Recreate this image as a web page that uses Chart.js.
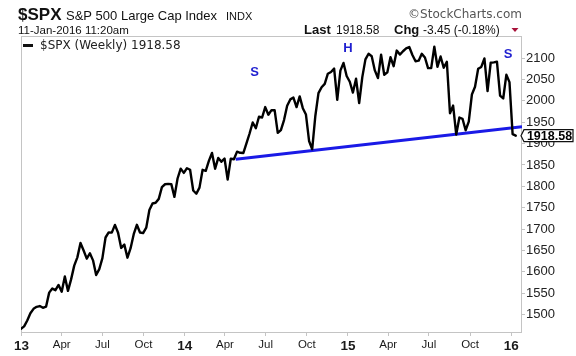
<!DOCTYPE html>
<html><head><meta charset="utf-8">
<script src="https://cdn.jsdelivr.net/npm/chart.js@4"></script>
<style>html,body{margin:0;padding:0;background:#fff}canvas{display:block}</style>
</head><body>
<canvas id="c" width="576" height="356"></canvas>
<script>
// Weekly closes, weeks dated by their Monday; first week starts Mon 31-Dec-2012 (day -1 from 1-Jan-2013)
const firstWeekDay = -1;
const closes2013 = [1466.5,1472.1,1486.0,1503.0,1513.2,1517.9,1519.8,1515.6,1518.2,1551.2,1560.7,1556.9,1569.2,1553.3,1588.9,1555.3,1582.2,1614.4,1633.7,1667.5,1649.6,1630.7,1643.4,1626.7,1592.4,1606.3,1631.9,1680.2,1692.1,1691.7,1709.7,1691.4,1655.8,1663.5,1633.0,1655.2,1688.0,1709.9,1691.8,1690.5,1703.2,1744.5,1759.8,1761.6,1770.6,1798.2,1804.8,1805.8,1805.1,1775.3,1818.3,1841.4];
const closes2014 = [1831.4,1842.4,1838.7,1790.3,1782.6,1797.0,1838.6,1836.3,1859.5,1878.0,1841.1,1866.5,1857.6,1865.1,1815.7,1864.9,1863.4,1881.1,1878.5,1877.9,1900.5,1923.6,1949.4,1936.2,1962.9,1961.0,1985.4,1967.6,1978.2,1978.3,1925.2,1931.6,1955.1,1988.4,2003.4,2007.7,1985.5,2010.4,1982.9,1967.9,1906.1,1886.8,1964.6,2018.1,2031.9,2039.8,2063.5,2067.6,2075.4,2002.3,2070.7,2088.8];
const closes2015 = [2058.2,2044.8,2019.4,2051.8,1995.0,2055.5,2097.0,2110.3,2104.5,2071.3,2053.4,2108.1,2061.0,2067.0,2102.1,2081.2,2117.7,2108.3,2116.1,2122.7,2126.1,2107.4,2092.8,2094.1,2110.0,2101.5,2076.8,2076.6,2126.6,2079.7,2103.8,2077.6,2091.5,1970.9,1988.9,1921.2,1961.1,1958.0,1931.3,1951.4,2014.9,2033.1,2075.2,2079.4,2099.2,2023.0,2089.2,2090.1,2091.7,2012.4,2005.6,2061.0,2043.9];
const closes2016 = [1922.0,1918.58];
const closes = [...closes2013, ...closes2014, ...closes2015, ...closes2016];

const tickDays = [0,90,181,273,365,455,546,638,730,820,911,1003,1095];
const tickLabels = ['13','Apr','Jul','Oct','14','Apr','Jul','Oct','15','Apr','Jul','Oct','16'];
const yTicks = [1500,1550,1600,1650,1700,1750,1800,1850,1900,1950,2000,2050,2100];

const necklineDays = [479, 1119];
const necklineValues = [1863.5, 1939.5];

const patternLabels = ['S','H','S'];
const patternDays = [521, 730, 1088];
const patternValues = [2066, 2123, 2108];

const lastValue = closes[closes.length-1];
const FONT = '"Liberation Sans", Arial, sans-serif';

const points = closes.map((v,i)=>({x: firstWeekDay + 7*i, y: v}));
const neck = necklineDays.map((d,i)=>({x:d, y:necklineValues[i]}));

const decor = {
  id:'decor',
  beforeDatasetsDraw(chart){
    const {ctx, chartArea:a} = chart;
    ctx.save();
    ctx.strokeStyle = '#c4c4c4';
    ctx.lineWidth = 1;
    ctx.strokeRect(a.left+0.5, a.top+0.5, a.right-a.left-1, a.bottom-a.top-1);
    ctx.restore();
  },
  afterDraw(chart){
    const {ctx, chartArea:a, scales} = chart;
    const xs = scales.x, ys = scales.y;
    ctx.save();
    // Header
    ctx.fillStyle = '#111';
    ctx.textBaseline = 'alphabetic';
    ctx.textAlign = 'left';
    ctx.font = 'bold 17px ' + FONT;
    ctx.fillText('$SPX', 18, 20);
    ctx.font = '13px ' + FONT;
    ctx.fillText('S&P 500 Large Cap Index', 66, 20);
    ctx.font = '11px ' + FONT;
    ctx.fillText('INDX', 226, 20);
    ctx.fillStyle = '#555';
    ctx.font = '12px "DejaVu Sans", sans-serif';
    ctx.textAlign = 'right';
    ctx.fillText('\u00A9StockCharts.com', 522, 17.5);
    ctx.textAlign = 'left';
    ctx.fillStyle = '#111';
    ctx.font = '11.5px ' + FONT;
    ctx.fillText('11-Jan-2016 11:20am', 18, 33.5);
    ctx.font = 'bold 13px ' + FONT;
    ctx.fillText('Last', 304, 33.5);
    ctx.font = '12px ' + FONT;
    ctx.fillText(lastValue.toFixed(2), 336, 33.5);
    ctx.font = 'bold 13px ' + FONT;
    ctx.fillText('Chg', 394, 33.5);
    ctx.font = '12px ' + FONT;
    ctx.fillText('-3.45 (-0.18%)', 423, 33.5);
    ctx.fillStyle = '#a8123a';
    ctx.beginPath();
    ctx.moveTo(511.5, 28); ctx.lineTo(518.5, 28); ctx.lineTo(515, 32); ctx.closePath(); ctx.fill();

    // Legend
    ctx.fillStyle = '#111';
    ctx.fillRect(23, 44, 10, 3);
    ctx.font = '12px "DejaVu Sans", sans-serif';
    ctx.textBaseline = 'middle';
    ctx.fillStyle = '#222';
    ctx.fillText('$SPX (Weekly) ' + lastValue.toFixed(2), 40, 46);

    // Pattern labels
    ctx.fillStyle = '#1f1fd0';
    ctx.font = 'bold 13px ' + FONT;
    ctx.textAlign = 'center';
    patternLabels.forEach((t,i)=>{
      ctx.fillText(t, xs.getPixelForValue(patternDays[i]), ys.getPixelForValue(patternValues[i]));
    });

    // Last value box
    const yp = ys.getPixelForValue(lastValue);
    const x0 = a.right - 1, bl = a.right + 2, br = 573, h = 6;
    ctx.beginPath();
    ctx.moveTo(x0, yp);
    ctx.lineTo(bl, yp - h);
    ctx.lineTo(br, yp - h);
    ctx.lineTo(br, yp + h);
    ctx.lineTo(bl, yp + h);
    ctx.closePath();
    ctx.fillStyle = '#fff';
    ctx.fill();
    ctx.lineWidth = 1.2;
    ctx.strokeStyle = '#111';
    ctx.stroke();
    ctx.fillStyle = '#000';
    ctx.font = 'bold 12.5px ' + FONT;
    ctx.textAlign = 'center';
    ctx.fillText(lastValue.toFixed(2), (bl + br)/2 + 1, yp + 0.5);
    ctx.restore();
  }
};

new Chart(document.getElementById('c'), {
  type: 'line',
  data: {
    datasets: [
      {data: points, borderColor:'#000', borderWidth:2.4, pointRadius:0, tension:0, borderJoinStyle:'round', borderCapStyle:'round'},
      {data: neck, borderColor:'#1a1ae6', borderWidth:3, pointRadius:0, tension:0}
    ]
  },
  options: {
    responsive:false, animation:false, devicePixelRatio:1,
    layout:{padding:{top:36, left:21, right:0, bottom:0}},
    plugins:{legend:{display:false}, tooltip:{enabled:false}},
    scales:{
      x:{
        type:'linear', min:-1, max:1119,
        afterFit(s){ s.height = 23; },
        afterBuildTicks(s){ s.ticks = tickDays.map(v=>({value:v})); },
        grid:{drawOnChartArea:false, drawTicks:true, tickLength:3, color:'#c4c4c4'},
        border:{display:false},
        ticks:{
          maxRotation:0, autoSkip:false, padding:2, color:'#1a1a1a',
          callback:(v,i)=>tickLabels[i],
          font:(ctx)=>{
            const lab = ctx.tick ? tickLabels[ctx.index] : '';
            return /^\d+$/.test(lab) ? {family:FONT, size:13.5, weight:'bold'} : {family:FONT, size:11.5};
          }
        }
      },
      y:{
        type:'linear', position:'right', min:1456.7, max:2151.8,
        afterFit(s){ s.width = 54; },
        afterBuildTicks(s){ s.ticks = yTicks.map(v=>({value:v})); },
        grid:{drawOnChartArea:false, drawTicks:true, tickLength:3, color:'#c4c4c4'},
        border:{display:false},
        ticks:{padding:1, color:'#222', font:{family:FONT, size:13}, callback:v=>String(v)}
      }
    }
  },
  plugins:[decor]
});
</script>
</body></html>
